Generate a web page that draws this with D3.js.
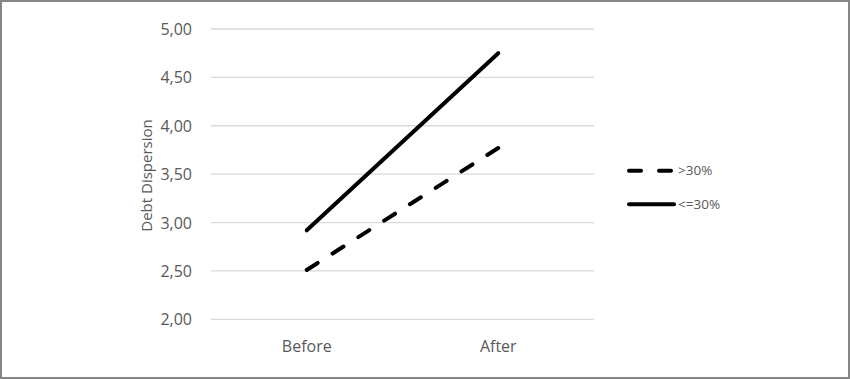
<!DOCTYPE html>
<html>
<head>
<meta charset="utf-8">
<script src="https://cdn.jsdelivr.net/npm/d3@7"></script>
<style>
  html, body { margin: 0; padding: 0; background: #fff; }
  svg { display: block; }
  text { font-family: "Open Sans", "Noto Sans", sans-serif; }
</style>
</head>
<body>
<svg id="chart" width="850" height="379"></svg>
<script>
const categories = ["Before", "After"];
const seriesNames = [">30%", "<=30%"];
const seriesGt30 = [2.51, 3.77];
const seriesLe30 = [2.92, 4.75];
const yTicks = [2.0, 2.5, 3.0, 3.5, 4.0, 4.5, 5.0];
const yTitle = "Debt Dispersion";

const series = [
  { name: seriesNames[0], values: seriesGt30, dashed: true },
  { name: seriesNames[1], values: seriesLe30, dashed: false }
];

const svg = d3.select("#chart");
const W = 850, H = 379;
const textColor = "#595959";

svg.append("rect").attr("x", 1).attr("y", 1).attr("width", W - 2).attr("height", H - 2)
  .attr("fill", "#fff").attr("stroke", "#868686").attr("stroke-width", 2);

const plot = { left: 211, right: 594, top: 29, bottom: 319.3 };

const x = d3.scaleBand().domain(categories).range([plot.left, plot.right]);
const y = d3.scaleLinear().domain([2, 5]).range([plot.bottom, plot.top]);

// gridlines
svg.append("g").selectAll("line").data(yTicks).join("line")
  .attr("x1", plot.left).attr("x2", plot.right)
  .attr("y1", d => y(d)).attr("y2", d => y(d))
  .attr("stroke", "#d9d9d9").attr("stroke-width", 1.3);

// y axis labels
const fmt = d => d3.format(".2f")(d).replace(".", ",");
const yAxis = d3.axisLeft(y).tickValues(yTicks).tickFormat(fmt).tickSize(0).tickPadding(19);
const gy = svg.append("g").attr("transform", `translate(${plot.left},0)`).call(yAxis);
gy.select(".domain").remove();
gy.selectAll("text").attr("font-size", 16).attr("fill", textColor)
  .style("font-family", '"Open Sans", sans-serif').attr("dy", "0.35em");

// x axis labels
const xAxis = d3.axisBottom(x).tickSize(0).tickPadding(0);
const gx = svg.append("g").attr("transform", `translate(0,${plot.bottom})`).call(xAxis);
gx.select(".domain").remove();
gx.selectAll("text").attr("font-size", 16).attr("fill", textColor)
  .style("font-family", '"Open Sans", sans-serif').attr("dy", null).attr("y", 33);

// y title
svg.append("text")
  .attr("transform", `translate(152,175.5) rotate(-90)`)
  .attr("text-anchor", "middle")
  .attr("font-size", 15)
  .attr("fill", textColor)
  .text(yTitle);

// lines
const line = d3.line()
  .x((d, i) => x(categories[i]) + x.bandwidth() / 2)
  .y(d => y(d));

const dashLen = 13;
svg.append("g").selectAll("path").data(series).join("path")
  .attr("d", d => line(d.values))
  .attr("fill", "none")
  .attr("stroke", "#000")
  .attr("stroke-width", 4)
  .attr("stroke-linecap", "round")
  .each(function(d) {
    if (!d.dashed) return;
    const L = this.getTotalLength();
    const n = Math.max(1, Math.round((L - dashLen) / 29));
    const gap = (L - dashLen) / n - dashLen;
    d3.select(this).attr("stroke-dasharray", `${dashLen},${gap}`);
  });

// legend
const legendY = [170.7, 204.3];
const lg = svg.append("g");
series.forEach((s, i) => {
  lg.append("line")
    .attr("x1", 629).attr("x2", s.dashed ? 671 : 674)
    .attr("y1", legendY[i]).attr("y2", legendY[i])
    .attr("stroke", "#000").attr("stroke-width", 4)
    .attr("stroke-linecap", "round")
    .attr("stroke-dasharray", s.dashed ? "12,18" : null);
  lg.append("text")
    .attr("x", 678).attr("y", legendY[i])
    .attr("dy", "0.35em")
    .attr("font-size", 13.5)
    .attr("fill", textColor)
    .text(s.name);
});
</script>
</body>
</html>
